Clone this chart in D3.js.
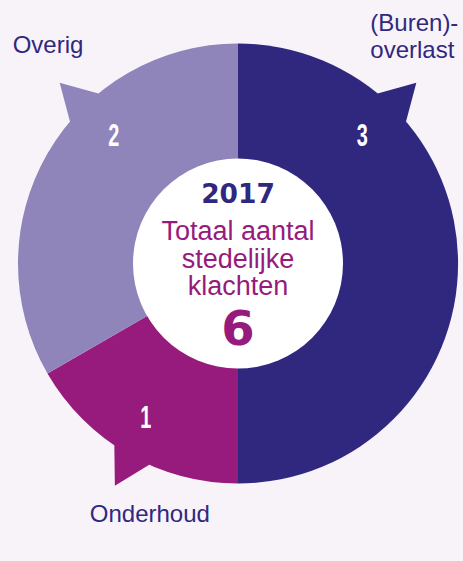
<!DOCTYPE html>
<html><head><meta charset="utf-8">
<script src="https://cdn.jsdelivr.net/npm/d3@7"></script>
<style>
html,body{margin:0;padding:0;background:#f8f3f9;}
svg{display:block;}
</style></head>
<body>
<svg id="chart" width="463" height="561"></svg>
<script>
// ---- data ----
const categories = ["(Buren)-overlast", "Onderhoud", "Overig"];
const labelLines = [["(Buren)-", "overlast"], ["Onderhoud"], ["Overig"]];
const values = [3, 1, 2];
const year = "2017";
const centerTitle = ["Totaal aantal", "stedelijke", "klachten"];
const total = d3.sum(values);

// ---- style ----
const colors = ["#30287f", "#961b7c", "#8f85bb"];
const labelColor = "#30287f";
const tailAngles = [44.6, 209, -44.6];          // degrees, clockwise from top
const numberAngles = [44, 211, -44];
const labelOffsets = [[-46, -52, "start"], [35, 36, "middle"], [-47, -30, "start"]];

const W = 463, H = 561;
const cx = 238, cy = 263.5, R = 220, Rin = 105, tipR = 254, tailHalf = 5.2, numR = 179;

const svg = d3.select("#chart");
svg.append("rect").attr("width", W).attr("height", H).attr("fill", "#f8f3f9");
const g = svg.append("g").attr("transform", `translate(${cx},${cy})`);

const pie = d3.pie().sort(null).value(d => d)(values);
const arc = d3.arc().innerRadius(0).outerRadius(R);
const toRad = a => a * Math.PI / 180;
const pt = (r, a) => [r * Math.sin(toRad(a)), -r * Math.cos(toRad(a))];

// tails
pie.forEach((p, i) => {
  const a = tailAngles[i];
  const pts = [pt(R, a - tailHalf), pt(tipR, a), pt(R, a + tailHalf), pt(R - 30, a)];
  g.append("path").attr("d", d3.line()(pts) + "Z").attr("fill", colors[i]);
});
// slices
g.selectAll("path.slice").data(pie).join("path")
  .attr("class", "slice").attr("d", arc).attr("fill", (d, i) => colors[i]);

// white centre
g.append("circle").attr("r", Rin).attr("fill", "#ffffff");

// values inside slices
pie.forEach((p, i) => {
  const [x, y] = pt(numR, numberAngles[i]);
  g.append("text")
    .attr("transform", `translate(${x},${y + 11}) scale(0.64,1)`)
    .attr("text-anchor", "middle")
    .attr("font-family", "Liberation Sans, Arial, sans-serif")
    .attr("font-weight", "bold").attr("font-size", 31)
    .attr("fill", "#ffffff").text(p.data);
});

// category labels near tails
pie.forEach((p, i) => {
  const [tx, ty] = pt(tipR, tailAngles[i]);
  const [ox, oy, anchor] = labelOffsets[i];
  const t = g.append("text")
    .attr("text-anchor", anchor)
    .attr("font-family", "Liberation Sans, Arial, sans-serif")
    .attr("font-size", 24).attr("fill", labelColor);
  labelLines[i].forEach((ln, k) => {
    t.append("tspan").attr("x", tx + ox).attr("y", ty + oy + k * 27.5).text(ln);
  });
});

// centre text
g.append("text").attr("text-anchor", "middle").attr("y", 203 - cy)
  .attr("font-family", "DejaVu Sans, sans-serif").attr("font-weight", "bold")
  .attr("font-size", 26.5).attr("fill", "#30287f").text(year);
centerTitle.forEach((ln, k) => {
  g.append("text").attr("text-anchor", "middle").attr("y", 240 - cy + k * 27.5)
    .attr("font-family", "Liberation Sans, Arial, sans-serif")
    .attr("font-size", 27).attr("fill", "#961b7c").text(ln);
});
g.append("text").attr("text-anchor", "middle").attr("y", 345 - cy)
  .attr("font-family", "DejaVu Sans, sans-serif").attr("font-weight", "bold")
  .attr("font-size", 48).attr("fill", "#961b7c").text(total);
</script>
</body></html>
